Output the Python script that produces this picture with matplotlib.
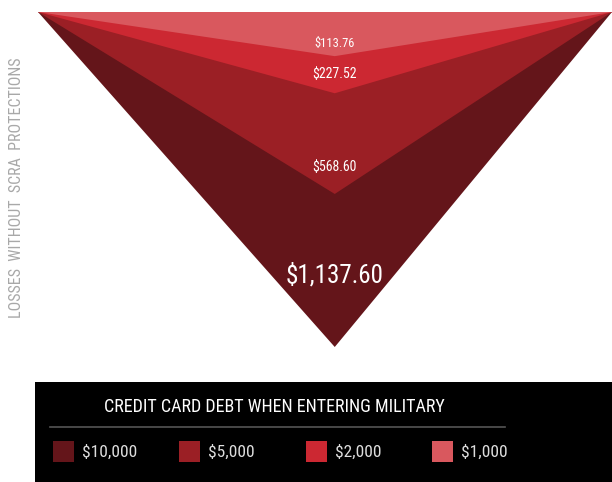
import os
import numpy as np
import matplotlib.pyplot as plt
from matplotlib import font_manager
from matplotlib.font_manager import FontProperties
from matplotlib.patches import Rectangle

# data
debt_labels = ['$10,000', '$5,000', '$2,000', '$1,000']
losses = [1137.60, 568.60, 227.52, 113.76]
loss_labels = ['$1,137.60', '$568.60', '$227.52', '$113.76']
colors = ['#64151A', '#9B1F25', '#CC2832', '#D9585E']

# style
label_sizes = [18, 10, 10, 9]
label_offsets = [-72, -27, -19, -13]   # pixels above the tip
apex_x = 0.517
power = 0.88

# look for a narrow font on the system, else plain DejaVu
wanted = ['NotoSans-ExtraCondensed.ttf', 'NotoSans-Condensed.ttf',
          'RobotoCondensed-Regular.ttf', 'LiberationSansNarrow-Regular.ttf',
          'DejaVuSansCondensed.ttf']
files = {os.path.basename(f.fname): f.fname for f in font_manager.fontManager.ttflist}
fp = FontProperties(family='DejaVu Sans')
for w in wanted:
    if w in files:
        fp = FontProperties(fname=files[w])
        break

W, H = 612, 482
fig = plt.figure(figsize=(W / 100, H / 100), dpi=100)

def px_box(x0, y0, x1, y1):
    return [x0 / W, 1 - y1 / H, (x1 - x0) / W, (y1 - y0) / H]

ax = fig.add_axes(px_box(38, 12, 612, 347))
ax.set_yscale('function', functions=(lambda v: np.sign(v) * np.abs(v) ** power,
                                     lambda v: np.sign(v) * np.abs(v) ** (1 / power)))
ax.set_xlim(0, 1)
ax.set_ylim(max(losses), 0)

for val, col in zip(losses, colors):
    ax.fill([0, apex_x, 1], [0, val, 0], color=col, lw=0)

for val, lab, fs, off in zip(losses, loss_labels, label_sizes, label_offsets):
    ax.annotate(lab, (apex_x, val), xytext=(0, -off), textcoords='offset pixels',
                ha='center', va='center', color='white', fontproperties=fp, size=fs)
ax.axis('off')

fig.text(17 / W, 1 - 188 / H, 'LOSSES  WITHOUT  SCRA  PROTECTIONS', rotation=90,
         ha='center', va='center', color='#a8a8a8', fontproperties=fp, size=11.5)

# legend panel
leg = fig.add_axes(px_box(35, 382, 612, 482))
leg.set_xlim(35, 612)
leg.set_ylim(482, 382)
leg.set_facecolor('black')
leg.set_xticks([])
leg.set_yticks([])
for s in leg.spines.values():
    s.set_visible(False)

leg.text(274, 407, 'CREDIT CARD DEBT WHEN ENTERING MILITARY', ha='center', va='center',
         color='white', fontproperties=fp, size=13)
leg.plot([50, 505], [427, 427], color='#555555', lw=1.2)
for i, (lab, col) in enumerate(zip(debt_labels, colors)):
    x0 = 53 + 126.3 * i
    leg.add_patch(Rectangle((x0, 441), 21, 21, color=col, lw=0))
    leg.text(x0 + 29, 452, lab, ha='left', va='center', color='#dddddd',
             fontproperties=fp, size=12.5)

fig.savefig('out.png', dpi=100, facecolor='white')
